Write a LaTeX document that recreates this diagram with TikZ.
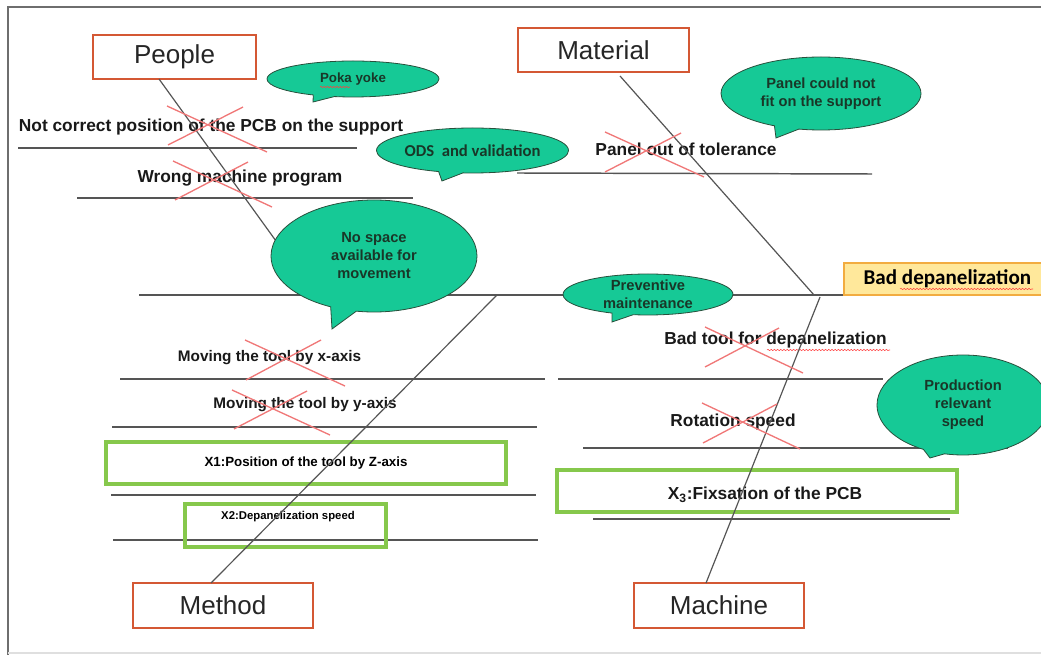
\documentclass[tikz,border=0pt]{standalone}
\usepackage{fontspec}
\setmainfont{Liberation Sans}
\newfontfamily\calfont{Carlito}
\usetikzlibrary{shapes.callouts,shapes.geometric,decorations.pathmorphing}
\definecolor{bubble}{RGB}{22,201,150}
\definecolor{bubbleedge}{RGB}{40,80,60}
\definecolor{bubbletext}{RGB}{25,55,40}
\definecolor{catedge}{RGB}{212,88,52}
\definecolor{xboxedge}{RGB}{134,200,76}
\definecolor{crossred}{RGB}{240,120,120}
\definecolor{badfill}{RGB}{255,232,155}
\definecolor{badedge}{RGB}{242,172,64}
\definecolor{linegray}{RGB}{85,85,85}
\definecolor{framegray}{RGB}{110,110,110}
\begin{document}
\begin{tikzpicture}[x=0.75pt,y=-0.75pt,
  cat/.style={draw=catedge, line width=1.5pt, fill=white, inner sep=0pt,
    font=\fontsize{19.5}{22}\selectfont, text=black!85},
  xframe/.style={draw=xboxedge, line width=2.3pt, inner sep=0pt},
  cause/.style={font=\bfseries\fontsize{13}{15}\selectfont, text=black!90, inner sep=0pt},
  smallcause/.style={font=\bfseries\fontsize{11.5}{13}\selectfont, text=black!90, inner sep=0pt},
  uline/.style={draw=linegray, line width=1.1pt},
  bone/.style={draw=linegray, line width=0.9pt},
  cross/.style={draw=crossred, line width=1pt},
  speech/.style={ellipse callout, fill=bubble, draw=bubbleedge, line width=0.6pt,
    inner sep=0pt, align=center, text=bubbletext,
    font=\bfseries\fontsize{11}{13.5}\selectfont},
  wavy/.style={draw=red!75, line width=0.4pt, decorate,
    decoration={snake, amplitude=0.5pt, segment length=2.4pt}}
]
\useasboundingbox (0,0) rectangle (1041,655);
\clip (0,0) rectangle (1041,655);

% frame
\draw[framegray, line width=1.5pt] (1050,7) -- (8,7) -- (8,660);
\draw[gray!25, line width=1pt] (8,653) -- (1050,653);

% underlines
\draw[uline] (18,148) -- (357,148);
\draw[uline] (77,198) -- (413,198);
\draw[uline] (517,173) -- (872,174);
\draw[uline] (120,379) -- (545,379);
\draw[uline] (558,379) -- (883,379);
\draw[uline] (112,427) -- (537,427);
\draw[uline] (583,448) -- (1008,448);
\draw[uline] (111,495) -- (536,495);
\draw[uline] (593,519) -- (950,519);
\draw[uline] (113,540) -- (538,540);

% cause texts
\node[cause] (c1) at (211,127) {Not correct position of the PCB on the support};
\node[cause] (c2) at (240,178) {Wrong machine program};
\node[cause] (c3) at (686,149) {Panel out of tolerance};
\node[smallcause] (c4) at (269.5,358) {Moving the tool by x-axis};
\node[smallcause] (c5) at (305,405) {Moving the tool by y-axis};
\node[cause] (c6) at (775.5,340) {Bad tool for depanelization};
\node[cause] (c7) at (733,422) {Rotation speed};

% green boxes
\node[xframe, minimum width=300pt, minimum height=31.5pt,
  font=\bfseries\fontsize{10}{12}\selectfont] (x1) at (306,463) {X1:Position of the tool by Z-axis};
\node[xframe, minimum width=150.75pt, minimum height=32.25pt] (x2) at (285.5,525.5) {};
\node[font=\bfseries\fontsize{8.5}{10}\selectfont, inner sep=0pt] (x2t) at (288,517) {X2:Depanelization speed};
\node[xframe, minimum width=300pt, minimum height=31.5pt] (x3) at (757,491) {};
\node[cause] (x3t) at (765,495) {X\textsubscript{3}:Fixsation of the PCB};

% spelling marks
\draw[wavy] (767,350) -- (890,350);

% category boxes
\node[cat, minimum width=122.25pt, minimum height=33pt] (People) at (174.5,57) {People};
\node[cat, minimum width=128.25pt, minimum height=33pt] (Material) at (603.5,50) {Material};
\node[cat, minimum width=135pt, minimum height=33.75pt] (Method) at (223,605.5) {Method};
\node[cat, minimum width=127.5pt, minimum height=33.75pt] (Machine) at (719,605.5) {Machine};

% effect box
\node[draw=badedge, fill=badfill, line width=1.3pt, anchor=west, inner sep=0pt,
  minimum width=155.25pt, minimum height=24pt,
  font=\calfont\bfseries\fontsize{15.8}{18}\selectfont] (Bad) at (843,279) {Bad depanelization};
\draw[wavy] (900,289) -- (1033,289);

% bone coordinates
\coordinate (spineStart) at (139,295);
\coordinate (pEnd) at (315,295);
\coordinate (maEnd) at (814,295);
\coordinate (meEnd) at (497,295);
\coordinate (mcEnd) at (820,297);
\coordinate (pStart) at (159,79);
\coordinate (maStart) at (620,76);
\coordinate (meStart) at (211,583);
\coordinate (mcStart) at (706,583);

% spine and bones
\draw[bone] (spineStart) -- (spineStart -| Bad.west);
\draw[bone] (pStart) -- (pEnd);
\draw[bone] (maStart) -- (maEnd);
\draw[bone] (meStart) -- (meEnd);
\draw[bone] (mcStart) -- (mcEnd);

% red crosses
\draw[cross] (167,106) -- (267,152); \draw[cross] (168,145) -- (243,107);
\draw[cross] (173,161) -- (272,207); \draw[cross] (175,200) -- (248,162);
\draw[cross] (605,132) -- (704,177); \draw[cross] (605,172) -- (681,133);
\draw[cross] (245,340) -- (345,386); \draw[cross] (246,380) -- (321,340);
\draw[cross] (232,390) -- (330,435); \draw[cross] (234,429) -- (307,391);
\draw[cross] (705,327) -- (803,373); \draw[cross] (705,367) -- (779,328);
\draw[cross] (702,403) -- (800,449); \draw[cross] (703,443) -- (777,404);

% bubbles
\node[speech, minimum width=129pt, minimum height=27pt,
  callout absolute pointer={(313,102)}, font=\bfseries\fontsize{10}{12}\selectfont] (poka) at (353,79) {Poka yoke};
\draw[wavy] (320,87) -- (350,87);
\node[speech, minimum width=116.25pt, minimum height=33.75pt,
  callout absolute pointer={(442,181)}, font=\calfont\bfseries\fontsize{12.5}{14}\selectfont] (ods) at (472.5,150.5) {ODS\ \ and validation};
\node[speech, minimum width=150pt, minimum height=54.75pt,
  callout absolute pointer={(776,138)}] (panel) at (821,93.5) {Panel could not\\fit on the support};
\node[speech, minimum width=154.5pt, minimum height=84pt,
  callout absolute pointer={(332,329)}] (space) at (374,256) {No space\\available for\\movement};
\node[speech, minimum width=127.5pt, minimum height=30.75pt,
  callout absolute pointer={(612,322)}] (prev) at (648,294.5) {Preventive\\maintenance};
\node[speech, minimum width=129pt, minimum height=75pt,
  callout absolute pointer={(930,458)}] (prod) at (963,405) {Production\\relevant\\speed};
\end{tikzpicture}
\end{document}
